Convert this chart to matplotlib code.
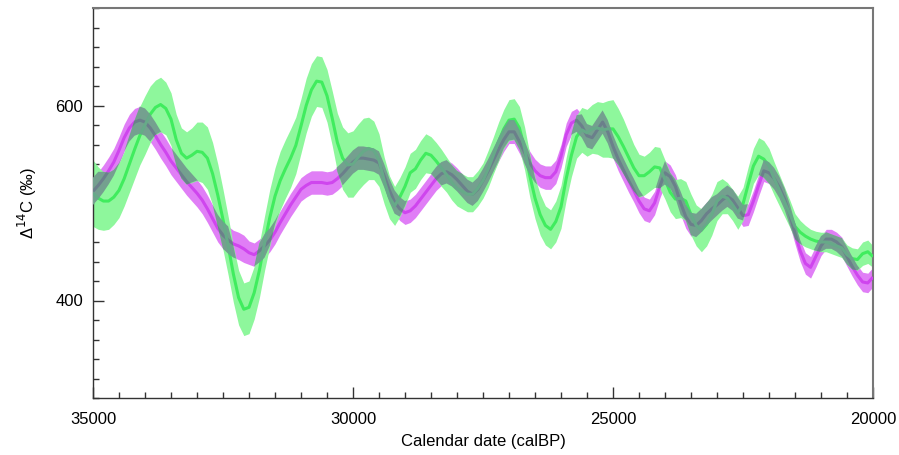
import numpy as np
import matplotlib
matplotlib.use("Agg")
import matplotlib.pyplot as plt
from matplotlib.ticker import MultipleLocator
from matplotlib.path import Path

plt.rcParams['font.family'] = ['Liberation Sans', 'DejaVu Sans']

# Calendar age (calBP), every 100 years from 35000 to 20000
years = list(range(35000, 19999, -100))

# Magenta series: Delta14C (permil)
magenta_d14c = [
    512, 518, 525, 533, 542, 554, 567, 577, 583, 585,   # 35000-34100
    583, 577, 569, 560, 552, 543, 536, 529, 522, 516,   # 34000-33100
    510, 503, 494, 484, 474, 467, 462, 458, 456, 453,   # 33000-32100
    449, 447, 451, 456, 462, 470, 480, 489, 498, 506,   # 32000-31100
    514, 518, 521, 521, 521, 520, 521, 525, 530, 536,   # 31000-30100
    542, 546, 546, 545, 544, 541, 528, 513, 501, 494,   # 30000-29100
    490, 492, 497, 504, 511, 518, 525, 530, 532, 529,   # 29000-28100
    524, 518, 512, 509, 514, 523, 533, 544, 555, 565,   # 28000-27100
    573, 573, 563, 552, 541, 533, 528, 526, 526, 532,   # 27000-26100
    548, 570, 582, 585, 579, 569, 567, 575, 583, 573,   # 26000-25100
    558, 545, 534, 523, 513, 502, 494, 492, 500, 517,   # 25000-24100
    531, 527, 517, 500, 486, 478, 477, 482, 489, 494,   # 24000-23100
    498, 503, 507, 503, 495, 487, 488, 502, 518, 533,   # 23000-22100
    531, 525, 516, 504, 488, 469, 451, 438, 434, 445,   # 22000-21100
    456, 463, 463, 460, 455, 445, 435, 426, 419, 418,   # 21000-20100
    424]                                                 # 20000
magenta_err = [14] * 30 + [12] * 90 + [11] * 20 + [10] * 11

# Green series: Delta14C (permil)
green_d14c = [
    510, 505, 502, 502, 506, 513, 525, 540, 555, 569,   # 35000-34100
    580, 591, 598, 601, 597, 586, 565, 551, 546, 549,   # 34000-33100
    553, 552, 546, 530, 508, 483, 456, 427, 403, 391,   # 33000-32100
    393, 408, 431, 459, 485, 507, 523, 535, 546, 559,   # 32000-31100
    579, 600, 616, 625, 624, 610, 587, 562, 546, 539,   # 31000-30100
    540, 547, 553, 556, 554, 544, 523, 506, 497, 506,   # 30000-29100
    517, 531, 535, 544, 551, 549, 543, 536, 529, 521,   # 29000-28100
    515, 512, 509, 509, 515, 523, 535, 549, 563, 576,   # 28000-27100
    585, 586, 577, 556, 528, 505, 488, 477, 473, 481,   # 27000-26100
    496, 525, 549, 568, 575, 572, 576, 577, 575, 576,   # 26000-25100
    576, 568, 558, 547, 536, 528, 528, 532, 537, 536,   # 25000-24100
    524, 511, 504, 505, 502, 488, 477, 472, 478, 488,   # 24000-23100
    502, 507, 505, 498, 490, 499, 519, 538, 548, 545,   # 23000-22100
    538, 525, 513, 501, 489, 476, 470, 466, 463, 461,   # 22000-21100
    460, 460, 458, 456, 454, 447, 443, 442, 448, 450,   # 21000-20100
    445]                                                 # 20000
green_err = [
    34, 32, 30, 29, 28, 28, 28, 29, 30, 30,
    30, 29, 28, 28, 27, 27, 26, 26, 27, 28,
    30, 31, 32, 32, 32, 31, 30, 29, 28, 27,
    27, 27, 28, 28, 29, 29, 30, 30, 30, 29,
    28, 28, 27, 26, 26, 27, 28, 30, 32, 33,
    34, 34, 34, 32, 30, 27, 24, 22, 20, 20,
    20, 20, 20, 20, 20, 19, 19, 19, 18, 18,
    18, 18, 18, 18, 18, 18, 19, 19, 20, 20,
    21, 21, 22, 22, 22, 21, 21, 20, 20, 21,
    22, 22, 22, 22, 23, 24, 25, 27, 28, 29,
    30, 29, 28, 26, 24, 22, 20, 20, 21, 21,
    20, 20, 20, 20, 20, 21, 21, 22, 22, 21,
    20, 18, 16, 16, 17, 17, 18, 18, 19, 19,
    18, 17, 16, 15, 14, 13, 12, 11, 10, 10,
    10, 10, 10, 10, 10, 10, 11, 11, 12, 12,
    11]

t = np.array(years, dtype=float)
m = np.array(magenta_d14c, dtype=float)
me = np.array(magenta_err, dtype=float)
g = np.array(green_d14c, dtype=float)
ge = np.array(green_err, dtype=float)

fig = plt.figure(figsize=(8.99, 4.55), dpi=100)
ax = fig.add_axes([93/899, 1 - 398/455, 780/899, 390/455])

MB, ML = '#e07ef6', '#cf45ee'
GB, GL = '#8ef79c', '#40ec5e'
OB = '#74a08f'

kw = dict(lw=2.2, solid_joinstyle='round', solid_capstyle='butt')
ax.fill_between(t, m - me, m + me, color=MB, lw=0, zorder=1)
ax.fill_between(t, g - ge, g + ge, color=GB, lw=0, zorder=2)
ax.plot(t, m, color=ML, zorder=3, **kw)
ax.plot(t, g, color=GL, zorder=3, **kw)

lo = np.maximum(m - me, g - ge)
hi = np.minimum(m + me, g + ge)
ov = ax.fill_between(t, lo, hi, where=hi > lo, interpolate=True,
                     color=OB, lw=0, zorder=4)
paths = ov.get_paths()
if paths:
    clip = Path.make_compound_path(*paths)
    l1, = ax.plot(t, m, color='#6b7f8b', zorder=5, **kw)
    l1.set_clip_path(clip, ax.transData)
    l2, = ax.plot(t, g, color='#66aa88', zorder=5, **kw)
    l2.set_clip_path(clip, ax.transData)

ax.set_xlim(35000, 20000)
ax.set_ylim(300, 700)
ax.xaxis.set_major_locator(MultipleLocator(5000))
ax.xaxis.set_minor_locator(MultipleLocator(500))
ax.yaxis.set_major_locator(MultipleLocator(200))
ax.yaxis.set_minor_locator(MultipleLocator(20))
ax.tick_params(which='both', direction='in', top=False, right=False,
               colors='#333333', labelcolor='black', labelsize=12)
ax.tick_params(which='major', length=8, width=1.0)
ax.tick_params(which='minor', length=4.5, width=1.0)
ax.tick_params(axis='x', which='major', pad=10)
ax.tick_params(axis='y', which='major', pad=7)

for s in ['left', 'bottom']:
    ax.spines[s].set_color('#333333')
    ax.spines[s].set_linewidth(1.0)
for s in ['top', 'right']:
    ax.spines[s].set_color('#777777')
    ax.spines[s].set_linewidth(1.5)

ax.set_xlabel('Calendar date (calBP)', fontsize=12, labelpad=5)
ax.set_ylabel('Δ$^{14}$C (‰)', fontsize=12, labelpad=12)

fig.savefig('out.png', dpi=100)
